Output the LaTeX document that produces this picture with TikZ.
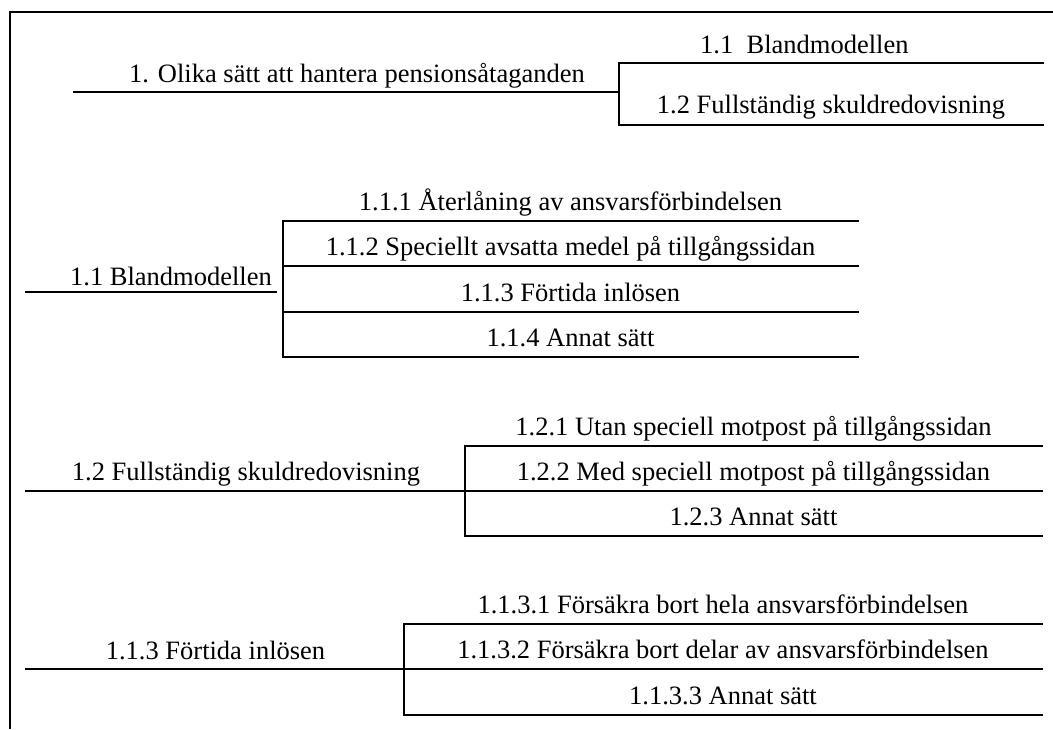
\documentclass[tikz,border=0pt]{standalone}
\usepackage{fontspec}
\setmainfont{Liberation Serif}
\begin{document}
\begin{tikzpicture}[x=1pt,y=-1pt,
  lbl/.style={anchor=base,inner sep=0pt,font=\fontsize{26.5}{30}\selectfont},
  lblw/.style={lbl,anchor=base west},
  ln/.style={line width=2pt,line cap=rect},
  frame/.style={line width=2pt}]
\useasboundingbox (0,0) rectangle (1053,729);
% frame
\coordinate (fr1) at (1053,12);
\coordinate (fr2) at (10,12);
\coordinate (fr3) at (10,729);
\draw[frame] (fr1) -- (fr2) -- (fr3);

% ---------- Section 1 ----------
\node[lbl] (s1) at (357,82) {1. Olika sätt att hantera pensionsåtaganden};
\coordinate (s1L) at (74,92.3);
\coordinate (s1J) at (619,92.3);
\coordinate (s1T) at (619,62.7);
\coordinate (s1B) at (619,125);
\coordinate (s1TR) at (1043,62.7);
\coordinate (s1BR) at (1043,125);
\draw[ln] (s1L) -- (s1J);
\draw[ln] (s1T) -- (s1B);
\draw[ln] (s1T) -- (s1TR);
\draw[ln] (s1B) -- (s1BR);
\node[lblw] (s11) at (700,53) {1.1\ \ Blandmodellen};
\node[lbl] (s12) at (831,113) {1.2 Fullständig skuldredovisning};

% ---------- Section 1.1 ----------
\node[lbl] (b1) at (171,285) {1.1 Blandmodellen};
\coordinate (b1L) at (26,291.7);
\coordinate (b1E) at (276,291.7);
\draw[ln] (b1L) -- (b1E);
\coordinate (bA) at (283,220.7);
\coordinate (bB) at (283,266);
\coordinate (bC) at (283,311.7);
\coordinate (bD) at (283,357);
\coordinate (bAR) at (858,220.7);
\coordinate (bBR) at (858,266);
\coordinate (bCR) at (858,311.7);
\coordinate (bDR) at (858,357);
\draw[ln] (bA) -- (bD);
\draw[ln] (bA) -- (bAR);
\draw[ln] (bB) -- (bBR);
\draw[ln] (bC) -- (bCR);
\draw[ln] (bD) -- (bDR);
\node[lbl] (b11) at (570.5,210) {1.1.1 Återlåning av ansvarsförbindelsen};
\node[lbl] (b12) at (570.5,255.5) {1.1.2 Speciellt avsatta medel på tillgångssidan};
\node[lbl] (b13) at (570.5,301) {1.1.3 Förtida inlösen};
\node[lbl] (b14) at (570.5,346.5) {1.1.4 Annat sätt};

% ---------- Section 1.2 ----------
\node[lbl] (f1) at (246,480) {1.2 Fullständig skuldredovisning};
\coordinate (f1L) at (26,490.7);
\coordinate (fA) at (465,445.7);
\coordinate (fB) at (465,490.7);
\coordinate (fC) at (465,535.7);
\coordinate (fAR) at (1042,445.7);
\coordinate (fBR) at (1042,490.7);
\coordinate (fCR) at (1042,535.7);
\draw[ln] (f1L) -- (fB);
\draw[ln] (fA) -- (fC);
\draw[ln] (fA) -- (fAR);
\draw[ln] (fB) -- (fBR);
\draw[ln] (fC) -- (fCR);
\node[lbl] (f21) at (753.5,435) {1.2.1 Utan speciell motpost på tillgångssidan};
\node[lbl] (f22) at (753.5,480) {1.2.2 Med speciell motpost på tillgångssidan};
\node[lbl] (f23) at (753.5,525) {1.2.3 Annat sätt};

% ---------- Section 1.1.3 ----------
\node[lbl] (t1) at (215.5,659) {1.1.3 Förtida inlösen};
\coordinate (t1L) at (26,669);
\coordinate (tA) at (404,624);
\coordinate (tB) at (404,669);
\coordinate (tC) at (404,715);
\coordinate (tAR) at (1042,624);
\coordinate (tBR) at (1042,669);
\coordinate (tCR) at (1042,715);
\draw[ln] (t1L) -- (tB);
\draw[ln] (tA) -- (tC);
\draw[ln] (tA) -- (tAR);
\draw[ln] (tB) -- (tBR);
\draw[ln] (tC) -- (tCR);
\node[lbl] (t31) at (723,613.5) {1.1.3.1 Försäkra bort hela ansvarsförbindelsen};
\node[lbl] (t32) at (723,658.5) {1.1.3.2 Försäkra bort delar av ansvarsförbindelsen};
\node[lbl] (t33) at (723,704.5) {1.1.3.3 Annat sätt};
\end{tikzpicture}
\end{document}
